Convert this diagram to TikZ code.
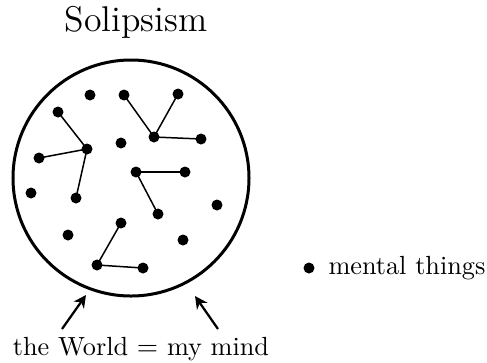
\documentclass[tikz,border=0pt]{standalone}
\usetikzlibrary{arrows.meta}
\begin{document}
\begin{tikzpicture}[x=0.4pt,y=-0.4pt,
  thing/.style={circle,fill=black,inner sep=0pt,minimum size=4.4pt},
  link/.style={line width=0.6pt},
  pointer/.style={line width=0.9pt,-{Stealth[length=5pt,width=5pt]}},
  lbl/.style={font=\fontsize{10.5}{12}\selectfont,inner sep=0pt}]
\useasboundingbox (0,0) rectangle (487,362);
\node[font=\fontsize{14.3}{16}\selectfont,inner sep=0pt] (title) at (136,22) {Solipsism};
\node[circle,draw,line width=1.2pt,minimum size=94.4pt,inner sep=0pt] (world) at (131,178) {};
\node[thing] (d1) at (90,95) {};
\node[thing] (d2) at (124,95) {};
\node[thing] (d3) at (178,94) {};
\node[thing] (d4) at (58,112) {};
\node[thing] (d5) at (154,137) {};
\node[thing] (d6) at (201,139) {};
\node[thing] (d7) at (121,143) {};
\node[thing] (d8) at (87,149) {};
\node[thing] (d9) at (39,158) {};
\node[thing] (d10) at (136,172) {};
\node[thing] (d11) at (185,172) {};
\node[thing] (d12) at (31,193) {};
\node[thing] (d13) at (76,198) {};
\node[thing] (d14) at (217,205) {};
\node[thing] (d15) at (158,214) {};
\node[thing] (d16) at (121,223) {};
\node[thing] (d17) at (68,235) {};
\node[thing] (d18) at (183,240) {};
\node[thing] (d19) at (97,265) {};
\node[thing] (d20) at (143,268) {};
\draw[link] (d2.center) -- (d5.center);
\draw[link] (d3.center) -- (d5.center);
\draw[link] (d5.center) -- (d6.center);
\draw[link] (d4.center) -- (d8.center);
\draw[link] (d9.center) -- (d8.center);
\draw[link] (d8.center) -- (d13.center);
\draw[link] (d10.center) -- (d11.center);
\draw[link] (d10.center) -- (d15.center);
\draw[link] (d16.center) -- (d19.center);
\draw[link] (d19.center) -- (d20.center);
\node[lbl,anchor=base] (caption) at (141,355) {the World $=$ my mind};
\coordinate (t1) at (62,329);
\coordinate (h1) at (86,295);
\coordinate (t2) at (218,329);
\coordinate (h2) at (195,296);
\draw[pointer] (t1) -- (h1);
\draw[pointer] (t2) -- (h2);
\node[thing] (legdot) at (309,268) {};
\node[lbl,anchor=west] (legend) at (328,268) {mental things};
\end{tikzpicture}
\end{document}
